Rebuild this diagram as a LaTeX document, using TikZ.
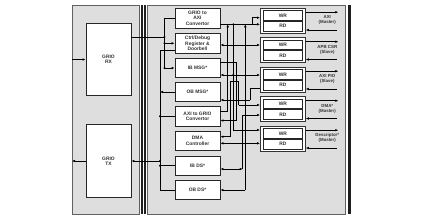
\documentclass[tikz,border=0pt]{standalone}
\usepackage{fontspec}
\setmainfont{Liberation Sans}
\usetikzlibrary{arrows.meta}
\begin{document}
\begin{tikzpicture}[x=1pt,y=-1pt,
  panel/.style={draw=black!62,fill=black!13,line width=0.9pt},
  blk/.style={draw=black!85,fill=white,line width=0.9pt,align=center,font=\fontsize{4.9}{5.3}\selectfont\bfseries,text=black!80,inner sep=0pt},
  wrbox/.style={draw=black!80,fill=white,line width=0.8pt},
  wire/.style={line width=0.65pt,black},
  tip/.tip={Latex[length=3pt,width=2.6pt]},
  ar/.style={wire,-tip},
  al/.style={wire,tip-},
  ab/.style={wire,tip-tip},
  jdot/.style={circle,fill=black,inner sep=0pt,minimum size=2.2pt},
  lbl/.style={font=\fontsize{4.4}{5}\selectfont\bfseries,text=black!80,align=center,inner sep=0pt}]
\useasboundingbox (0,0) rectangle (423,220);
% panels and bars
\path[panel] (72,5) rectangle (139.5,214.5);
\path[panel] (147,5) rectangle (345.7,214.5);
\fill[black!88] (141.2,5) rectangle (143,214);
\fill[black!88] (143.8,5) rectangle (145.6,214);
\fill[black!88] (347.8,5) rectangle (350.5,214);
% left blocks
\node[blk,minimum width=45pt,minimum height=72.5pt] (rx) at (108.5,59.5) {GRIO\\RX};
\node[blk,minimum width=45pt,minimum height=72.5pt] (tx) at (108.5,161) {GRIO\\TX};
% main left column
\foreach \n/\y/\t in {g2a/18.3/{GRIO to\\AXI\\Convertor},ctrl/43.3/{Ctrl/Debug\\Register \&\\Doorbell},ibm/68/{IB MSG*},obm/92/{OB MSG*},a2g/116.3/{AXI to GRIO\\Convertor},dma/140.7/{DMA\\Controller},ibd/165.7/{IB DS*},obd/190/{OB DS*}}
  \node[blk,minimum width=45pt,minimum height=19.5pt] (\n) at (197.5,\y) {\t};
% right WR/RD boxes
\foreach \i/\t in {1/7.5,2/37,3/66.5,4/96,5/125.5}{
  \node[wrbox,minimum width=45pt,minimum height=25pt,inner sep=0pt,anchor=north west] (b\i) at (260,\t) {};
  \node[blk,minimum width=39.6pt,minimum height=9.8pt,anchor=north] (wr\i) at ([yshift=-2.6pt]b\i.north) {WR};
  \node[blk,minimum width=39.6pt,minimum height=9.8pt,anchor=north] (rd\i) at (wr\i.south) {RD};
  \coordinate (we\i) at ([yshift=-4.7pt]b\i.north east);
  \coordinate (re\i) at ([yshift=3.3pt]b\i.south east);
  \coordinate (wx\i) at ([xshift=32.5pt]we\i);
  \coordinate (rx\i) at ([xshift=31pt]re\i);
  \draw[ar] (we\i) -- (wx\i);
  \draw[al] (re\i) -- (rx\i);
}
\foreach \i/\la/\lb in {1/AXI/(Master),2/APB CSR/(Slave),3/AXI PIO/(Slave),4/DMA*/(Master),5/Descriptor*/(Master)}
  \node[lbl] (lab\i) at ([xshift=21.5pt,yshift=-12.7pt]b\i.north east) {\la\\\lb};
% left panel I/O
\coordinate (inL) at (72,59.5);
\coordinate (outL) at (72,161);
\draw[ar] (inL) -- (rx.west);
\draw[ar] (tx.west) -- (outL);
% RX bus
\coordinate (v1a) at (164.5,18.3);
\coordinate (v1b) at (164.5,37);
\coordinate (v1c) at (164.5,43.3);
\coordinate (v1d) at (164.5,68);
\draw[wire] (rx.east |- v1b) -- (v1b);
\draw[wire] (v1a) -- (v1d);
\draw[wire] (v1a) -- (g2a.west);
\draw[ar] (v1c) -- (ctrl.west);
\draw[ar] (v1d) -- (ibm.west);
\foreach \c in {v1b,v1c,v1d} \node[jdot] at (\c) {};
% TX bus
\coordinate (v2a) at (160,50);
\coordinate (v2b) at (160,92);
\coordinate (v2c) at (160,116.3);
\coordinate (v2d) at (160,161);
\coordinate (v2e) at (160,165.7);
\coordinate (v2f) at (160,190);
\draw[wire] (v2a) -- (v2f);
\draw[wire] (ctrl.west |- v2a) -- (v2a);
\draw[ar] (obm.west) -- (v2b);
\draw[wire] (a2g.west) -- (v2c);
\draw[ar] (v2d) -- (tx.east);
\draw[wire] (ibd.west) -- (v2e);
\draw[wire] (obd.west) -- (v2f);
\foreach \c in {v2c,v2d,v2e} \node[jdot] at (\c) {};
% interconnect channel
\coordinate (ga) at (252,24.3);
\coordinate (gb) at (252,17.7);
\coordinate (ja) at (233.3,24.3);
\coordinate (jb) at (233.3,75);
\coordinate (jc) at (233.3,130);
\coordinate (ka) at (227.7,24.3);
\coordinate (kb) at (227.7,111);
\coordinate (ma) at (245.3,24.3);
\coordinate (mb) at (245.3,190);
\coordinate (na) at (242.7,169);
\coordinate (nb) at (242.7,115);
\coordinate (pa) at (238.7,81);
\coordinate (pb) at (230,81);
\coordinate (pc) at (230,136.7);
\coordinate (pd) at (238.7,105);
\coordinate (qa) at (250,100);
\coordinate (qb) at (250,88.5);
\coordinate (ra) at (236,120.5);
\coordinate (rb) at (236,62);
% GRIO to AXI -> AXI master
\draw[wire] (g2a.east |- ga) -- (ga) -- (gb);
\draw[ar] (gb) -- (b1.west |- gb);
\draw[ar] (ga) -- (b1.west |- ga);
% Ctrl <-> APB CSR
\draw[ab] (ctrl.east |- 0,45) -- (b2.west |- 0,45);
% IB MSG <-> AXI PIO
\draw[ab] (ibm.east |- jb) -- (b3.west |- jb);
\draw[wire] (ja) -- (jc);
\draw[ar] (jc) -- (b5.west |- jc);
\node[jdot] at (ja) {};
\node[jdot] at (jb) {};
% AXI to GRIO up to AXI master line
\draw[wire] (a2g.east |- kb) -- (kb);
\draw[ar] (kb) -- (ka);
% OB DS up to AXI master line
\draw[al] (obd.east |- mb) -- (mb);
\draw[ar] (mb) -- (ma);
% IB DS
\draw[ab] (ibd.east |- na) -- (na);
\draw[wire] (na) -- (nb);
\draw[ar] (nb) -- (b4.west |- nb);
% DMA controller and DMA master write
\draw[wire] (pd) -- (pa) -- (pb) -- (pc);
\draw[ar] (pc) -- (dma.east |- pc);
\draw[ar] (pd) -- (b4.west |- pd);
% OB MSG from AXI PIO read
\draw[wire] (b3.west |- qb) -- (qb) -- (qa);
\draw[ar] (qa) -- (obm.east |- qa);
% AXI to GRIO read return
\draw[wire] (rb) -- (ra);
\draw[ar] (ra) -- (a2g.east |- ra);
\draw[wire] (rb) -- (ibm.east |- rb);
% DMA <-> Descriptor read
\draw[ab] (dma.east |- 0,143.3) -- (b5.west |- 0,143.3);
\end{tikzpicture}
\end{document}
